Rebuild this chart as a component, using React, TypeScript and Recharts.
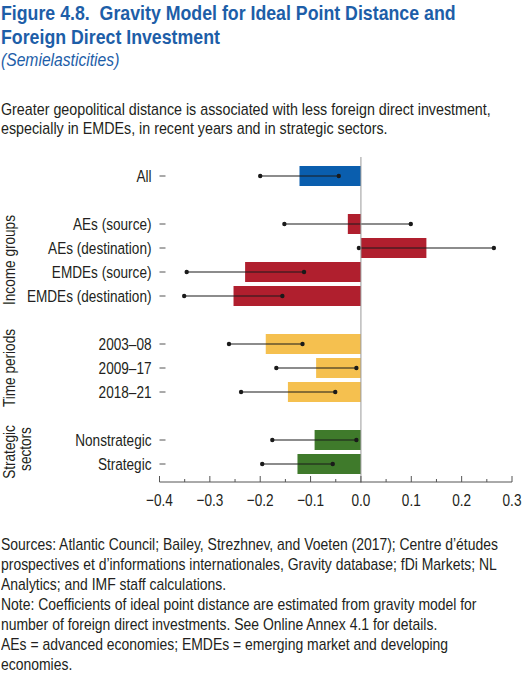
import React from 'react';
import { ComposedChart, Bar, XAxis, YAxis, ReferenceLine, Cell } from 'recharts';

const categories = ['All', ' ', 'AEs (source)', 'AEs (destination)', 'EMDEs (source)', 'EMDEs (destination)', '  ', '2003–08', '2009–17', '2018–21', '   ', 'Nonstrategic', 'Strategic'];
const coefficients = [-0.122, null, -0.026, 0.130, -0.230, -0.253, null, -0.189, -0.089, -0.145, null, -0.092, -0.126];
const lowerBounds = [-0.200, null, -0.152, -0.004, -0.346, -0.351, null, -0.262, -0.168, -0.238, null, -0.176, -0.196];
const upperBounds = [-0.044, null, 0.099, 0.264, -0.113, -0.156, null, -0.116, -0.009, -0.051, null, -0.009, -0.056];
const groups = ['all', null, 'income', 'income', 'income', 'income', null, 'time', 'time', 'time', null, 'sector', 'sector'];
const xTicks = [-0.4, -0.35, -0.3, -0.25, -0.2, -0.15, -0.1, -0.05, 0, 0.05, 0.1, 0.15, 0.2, 0.25, 0.3];

const groupColors: Record<string, string> = {
  all: '#0a5eae',
  income: '#b01f2e',
  time: '#f5c04f',
  sector: '#3f7a2b',
};

const data = categories.map((name, i) => ({
  name,
  value: coefficients[i],
  ci: lowerBounds[i] !== null && upperBounds[i] !== null ? [lowerBounds[i], upperBounds[i]] : null,
  group: groups[i],
}));

const FONT = "'Liberation Sans', Arial, sans-serif";
const TEXT = '#231f20';
const K = 0.8;

const fmt = (v: number) => {
  const s = Math.abs(v).toFixed(1);
  return v < -1e-9 ? '\u2212' + s : s;
};

const XTick = (props: any) => {
  const { x, y, payload } = props;
  const v = payload.value as number;
  const major = Math.abs(Math.round(v * 10) - v * 10) < 1e-6;
  return (
    <g>
      <line x1={x} x2={x} y1={y} y2={y - (major ? 6 : 3)} stroke="#555" strokeWidth={1} />
      {major && (
        <text transform={`translate(${x},${y + 24}) scale(${K},1)`} textAnchor="middle" fontSize={17} fontFamily={FONT} fill={TEXT}>
          {fmt(v)}
        </text>
      )}
    </g>
  );
};

const YTick = (props: any) => {
  const { x, y, payload } = props;
  const label = String(payload.value).trim();
  if (!label) return null;
  return (
    <g>
      <text transform={`translate(${x - 8},${y + 6}) scale(${K},1)`} textAnchor="end" fontSize={17} fontFamily={FONT} fill={TEXT}>
        {label}
      </text>
      <line x1={x} x2={x + 6} y1={y} y2={y} stroke="#555" strokeWidth={1} />
    </g>
  );
};

const CiShape = (props: any) => {
  const { x, y, width, height, payload } = props;
  if (!payload || !payload.ci) return null;
  const cy = y + height / 2;
  const x1 = x;
  const x2 = x + width;
  return (
    <g>
      <line x1={x1} x2={x2} y1={cy} y2={cy} stroke="#1a1a1a" strokeWidth={1.2} />
      <circle cx={x1} cy={cy} r={2.2} fill="#1a1a1a" />
      <circle cx={x2} cy={cy} r={2.2} fill="#1a1a1a" />
    </g>
  );
};

const ZeroLine = (props: any) => {
  const { x1, y1, x2, y2 } = props;
  return <line x1={x1} x2={x2} y1={y1 + 1} y2={y2 - 7} stroke="#999" strokeWidth={1} />;
};

const Line = ({ top, size, lh, k, children, extra = {} }: { top: number; size: number; lh: number; k: number; children: React.ReactNode; extra?: React.CSSProperties }) => (
  <div
    style={{
      position: 'absolute',
      top,
      left: 1,
      whiteSpace: 'nowrap',
      fontFamily: FONT,
      fontSize: size,
      lineHeight: `${lh}px`,
      color: TEXT,
      transform: `scaleX(${k})`,
      transformOrigin: 'left center',
      ...extra,
    }}
  >
    {children}
  </div>
);

const titleLines = ['Figure 4.8.\u00a0\u00a0Gravity Model for Ideal Point Distance and', 'Foreign Direct Investment'];
const subtitle = '(Semielasticities)';
const leadLines = [
  'Greater geopolitical distance is associated with less foreign direct investment,',
  'especially in EMDEs, in recent years and in strategic sectors.',
];
const noteLines = [
  'Sources: Atlantic Council; Bailey, Strezhnev, and Voeten (2017); Centre d\u2019\u00e9tudes',
  'prospectives et d\u2019informations internationales, Gravity database; fDi Markets; NL',
  'Analytics; and IMF staff calculations.',
  'Note: Coefficients of ideal point distance are estimated from gravity model for',
  'number of foreign direct investments. See Online Annex 4.1 for details.',
  'AEs = advanced economies; EMDEs = emerging market and developing',
  'economies.',
];

const RotLabel = ({ cx, cy, text }: { cx: number; cy: number; text: string }) => (
  <div
    style={{
      position: 'absolute',
      left: cx,
      top: cy,
      transform: `translate(-50%, -50%) rotate(-90deg) scaleX(${K})`,
      whiteSpace: 'nowrap',
      fontFamily: FONT,
      fontSize: 17,
      lineHeight: '17px',
      color: TEXT,
    }}
  >
    {text}
  </div>
);

export default function App() {
  return (
    <div style={{ position: 'relative', width: 526, height: 675, background: '#fff', overflow: 'hidden' }}>
      <style>{'body{margin:0;}'}</style>
      {titleLines.map((t, i) => (
        <Line key={t} top={1 + i * 24} size={21} lh={24} k={0.845} extra={{ fontWeight: 700, color: '#1d5ea8' }}>
          {t}
        </Line>
      ))}
      <Line top={49} size={18} lh={22} k={0.87} extra={{ fontStyle: 'italic', color: '#1d5ea8' }}>
        {subtitle}
      </Line>
      {leadLines.map((t, i) => (
        <Line key={t} top={100 + i * 19} size={17} lh={19} k={0.84}>
          {t}
        </Line>
      ))}
      <div style={{ position: 'absolute', top: 0, left: 0 }}>
        <ComposedChart
          width={526}
          height={520}
          data={data}
          layout="vertical"
          margin={{ top: 164, right: 14, bottom: 0, left: 0 }}
          barCategoryGap={2}
        >
          <XAxis
            type="number"
            domain={[-0.4, 0.3]}
            ticks={xTicks}
            interval={0}
            tickSize={0}
            tickMargin={0}
            tickLine={false}
            axisLine={{ stroke: '#555', strokeWidth: 1 }}
            tick={<XTick />}
            height={38}
            allowDataOverflow
          />
          <YAxis
            type="category"
            dataKey="name"
            width={159.5}
            tickSize={0}
            tickMargin={0}
            tickLine={false}
            axisLine={false}
            tick={<YTick />}
            interval={0}
            padding={{ top: 0, bottom: 6 }}
          />
          <YAxis yAxisId="ci" type="category" dataKey="name" hide padding={{ top: 0, bottom: 6 }} />
          <Bar dataKey="value" barSize={20} isAnimationActive={false}>
            {data.map((d, i) => (
              <Cell key={i} fill={d.group ? groupColors[d.group] : 'transparent'} />
            ))}
          </Bar>
          <ReferenceLine x={0} shape={<ZeroLine />} />
          <Bar dataKey="ci" yAxisId="ci" barSize={2} shape={<CiShape />} isAnimationActive={false} />
        </ComposedChart>
      </div>
      <RotLabel cx={9} cy={260} text="Income groups" />
      <RotLabel cx={9} cy={368} text="Time periods" />
      <RotLabel cx={9} cy={452} text="Strategic" />
      <RotLabel cx={25} cy={449} text="sectors" />
      {noteLines.map((t, i) => (
        <Line key={t} top={535 + i * 20} size={17} lh={20} k={0.82}>
          {t}
        </Line>
      ))}
    </div>
  );
}
